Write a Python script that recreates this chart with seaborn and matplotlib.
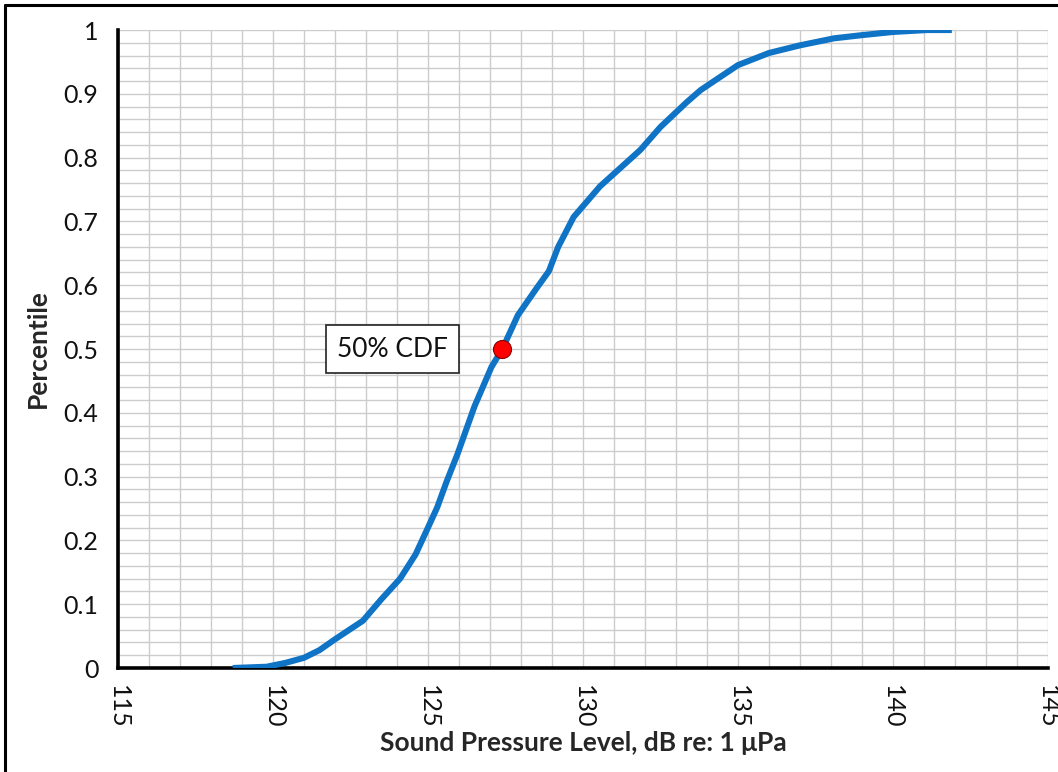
"""
Cumulative distribution of sound pressure level, with the 50% CDF point marked.
"""
import matplotlib
matplotlib.use("Agg")
import matplotlib.pyplot as plt
from matplotlib.lines import Line2D
from matplotlib.ticker import MultipleLocator, FuncFormatter
import pandas as pd
import seaborn as sns

SPL_DB = [118.7, 119.8, 120.4, 121.0, 121.5, 122.0, 122.9, 123.5, 124.1, 124.6,
          125.0, 125.3, 125.6, 125.95, 126.5, 127.05, 127.4, 127.9, 128.5, 128.9,
          129.2, 129.7, 130.55, 131.85, 132.5, 133.35, 133.8, 135.0, 136.0, 137.0,
          138.1, 139.0, 140.0, 141.1, 141.9]
PERCENTILE = [0.0, 0.002, 0.008, 0.016, 0.028, 0.045, 0.074, 0.108, 0.14, 0.178,
              0.22, 0.252, 0.292, 0.335, 0.41, 0.472, 0.5, 0.553, 0.595, 0.622,
              0.66, 0.707, 0.755, 0.812, 0.848, 0.887, 0.906, 0.945, 0.964, 0.976,
              0.987, 0.992, 0.997, 1.0, 1.0]
MEDIAN_SPL = 127.4
MEDIAN_P = 0.5
LABEL = "50% CDF"
LABEL_X = 123.85

sns.set_theme(style="white")
plt.rcParams["font.family"] = ["Lato", "DejaVu Sans"]

df = pd.DataFrame({"spl": SPL_DB, "p": PERCENTILE})

fig = plt.figure(figsize=(10.58, 7.72), dpi=100)
ax = fig.add_axes([0.1115, 0.1347, 0.879, 0.8264])

sns.lineplot(data=df, x="spl", y="p", ax=ax, color="#0F73C6", linewidth=4.4,
             solid_capstyle="butt", solid_joinstyle="round", zorder=3)
ax.plot([MEDIAN_SPL], [MEDIAN_P], "o", color="#FF0000", markersize=13,
        markeredgecolor="#8B0000", markeredgewidth=0.8, zorder=4)
ax.text(LABEL_X, MEDIAN_P, LABEL, fontsize=19, ha="center", va="center",
        color="#111111", zorder=5,
        bbox=dict(boxstyle="square,pad=0.42", facecolor="white",
                  edgecolor="#222222", linewidth=1.2))

ax.set_xlim(115, 145)
ax.set_ylim(0, 1)
ax.xaxis.set_major_locator(MultipleLocator(5))
ax.xaxis.set_minor_locator(MultipleLocator(1))
ax.yaxis.set_major_locator(MultipleLocator(0.1))
ax.yaxis.set_minor_locator(MultipleLocator(0.02))
ax.yaxis.set_major_formatter(FuncFormatter(lambda v, _: f"{v:g}"))
ax.grid(True, which="both", color="#CCCCCC", linewidth=1.0, zorder=0)
ax.set_axisbelow(True)

for side in ("top", "right"):
    ax.spines[side].set_visible(False)
for side in ("left", "bottom"):
    ax.spines[side].set_color("black")
    ax.spines[side].set_linewidth(2.6)

ax.tick_params(axis="both", which="both", length=0, labelsize=18, colors="#111111")
ax.tick_params(axis="y", pad=14)
ax.tick_params(axis="x", pad=12, labelrotation=-90)

ax.set_xlabel("Sound Pressure Level, dB re: 1 \u03bcPa", fontsize=19,
              fontweight="bold", labelpad=2)
ax.set_ylabel("Percentile", fontsize=19, fontweight="bold", labelpad=10)

# screenshot frame (left and top edges)
fig.add_artist(Line2D([0.005, 0.005], [0.0, 0.994], transform=fig.transFigure,
                      color="black", linewidth=2.2))
fig.add_artist(Line2D([0.005, 1.0], [0.994, 0.994], transform=fig.transFigure,
                      color="black", linewidth=2.2))

fig.savefig("out.png", dpi=100)
plt.close(fig)
